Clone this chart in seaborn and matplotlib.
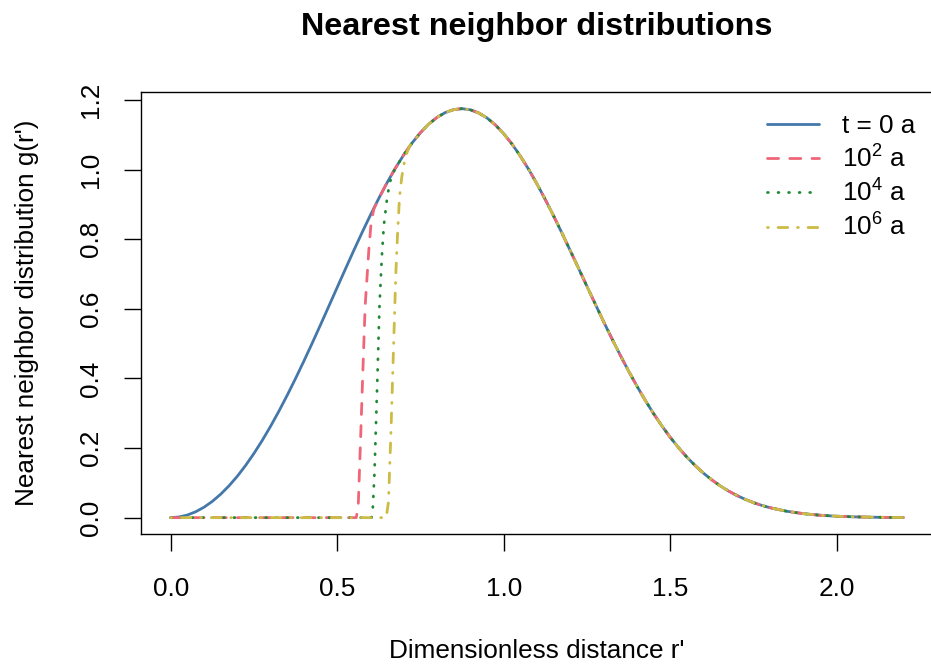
import numpy as np
import pandas as pd
import matplotlib
matplotlib.use("Agg")
import matplotlib.pyplot as plt
import seaborn as sns

# ---- data ----
r_grid = [0.000, 0.025, 0.050, 0.075, 0.100, 0.125, 0.150, 0.175, 0.200, 0.225,
          0.250, 0.275, 0.300, 0.325, 0.350, 0.375, 0.400, 0.425, 0.450, 0.475,
          0.500, 0.525, 0.550, 0.575, 0.600, 0.625, 0.650, 0.675, 0.700, 0.725,
          0.750, 0.775, 0.800, 0.825, 0.850, 0.875, 0.900, 0.925, 0.950, 0.975,
          1.000, 1.025, 1.050, 1.075, 1.100, 1.125, 1.150, 1.175, 1.200, 1.225,
          1.250, 1.275, 1.300, 1.325, 1.350, 1.375, 1.400, 1.425, 1.450, 1.475,
          1.500, 1.525, 1.550, 1.575, 1.600, 1.625, 1.650, 1.675, 1.700, 1.725,
          1.750, 1.775, 1.800, 1.850, 1.900, 1.950, 2.000, 2.050, 2.100, 2.150,
          2.200]
g_t0 = [0.0000, 0.0019, 0.0075, 0.0169, 0.0300, 0.0468, 0.0673, 0.0914, 0.1190, 0.1502,
        0.1846, 0.2222, 0.2628, 0.3062, 0.3521, 0.4002, 0.4502, 0.5018, 0.5546, 0.6081,
        0.6619, 0.7155, 0.7684, 0.8202, 0.8702, 0.9180, 0.9632, 1.0050, 1.0431, 1.0772,
        1.1067, 1.1313, 1.1507, 1.1646, 1.1729, 1.1756, 1.1723, 1.1632, 1.1488, 1.1288,
        1.1036, 1.0737, 1.0392, 1.0010, 0.9591, 0.9142, 0.8670, 0.8179, 0.7672, 0.7163,
        0.6649, 0.6139, 0.5634, 0.5144, 0.4670, 0.4214, 0.3782, 0.3373, 0.2991, 0.2637,
        0.2310, 0.2011, 0.1740, 0.1496, 0.1278, 0.1085, 0.0915, 0.0766, 0.0638, 0.0527,
        0.0432, 0.0352, 0.0285, 0.0183, 0.0114, 0.0069, 0.0040, 0.0023, 0.0013, 0.0007,
        0.0003]

# steep onsets of the later distributions (zero before, t = 0 curve after)
rise_1e2_r = [0.000, 0.557, 0.563, 0.570, 0.577, 0.584, 0.595, 0.602, 0.610]
rise_1e2_g = [0.000, 0.000, 0.030, 0.220, 0.420, 0.610, 0.770, 0.850, 0.887]
rise_1e4_r = [0.000, 0.603, 0.607, 0.612, 0.620, 0.627, 0.634, 0.640, 0.650, 0.658, 0.672]
rise_1e4_g = [0.000, 0.000, 0.030, 0.130, 0.380, 0.610, 0.750, 0.840, 0.920, 0.964, 1.000]
rise_1e6_r = [0.000, 0.647, 0.654, 0.662, 0.669, 0.676, 0.681, 0.687, 0.694, 0.704, 0.717]
rise_1e6_g = [0.000, 0.000, 0.045, 0.265, 0.485, 0.700, 0.810, 0.920, 0.980, 1.035, 1.068]

labels = ["t = 0 a", r"$10^2$ a", r"$10^4$ a", r"$10^6$ a"]
colors = ["#4477AA", "#EE6677", "#228833", "#CCBB44"]
styles = ["-", (0, (4, 4)), (0, (0.3, 3.5)), (0, (0.3, 3.5, 3.5, 3.5))]

x_ticks = [0.0, 0.5, 1.0, 1.5, 2.0]
y_ticks = [0.0, 0.2, 0.4, 0.6, 0.8, 1.0, 1.2]


def join(rise_r, rise_g):
    last = rise_r[-1]
    rr = list(rise_r) + [r for r in r_grid if r > last + 1e-9]
    gg = list(rise_g) + [g for r, g in zip(r_grid, g_t0) if r > last + 1e-9]
    return rr, gg


series = [(r_grid, g_t0), join(rise_1e2_r, rise_1e2_g),
          join(rise_1e4_r, rise_1e4_g), join(rise_1e6_r, rise_1e6_g)]

# ---- figure ----
sns.set_style("white")
plt.rcParams["font.family"] = ["Liberation Sans", "DejaVu Sans"]
plt.rcParams["mathtext.fontset"] = "custom"
plt.rcParams["mathtext.rm"] = "Liberation Sans"
plt.rcParams["mathtext.it"] = "Liberation Sans:italic"
plt.rcParams["mathtext.bf"] = "Liberation Sans:bold"
plt.rcParams["text.color"] = "black"
plt.rcParams["axes.labelcolor"] = "black"
plt.rcParams["xtick.color"] = "black"
plt.rcParams["ytick.color"] = "black"

fig = plt.figure(figsize=(9.31, 6.64), dpi=100)
ax = fig.add_axes([0.1519, 0.1958, 1.0017 - 0.1519, 0.861 - 0.1958])

for (rr, gg), lab, col, ls in zip(series, labels, colors, styles):
    df = pd.DataFrame({"r": rr, "g": gg})
    sns.lineplot(data=df, x="r", y="g", ax=ax, color=col, label=lab,
                 sort=False, estimator=None, linewidth=2.0,
                 linestyle=ls, dash_capstyle="round", solid_capstyle="round")

ax.set_xlim(-0.088, 2.288)
ax.set_ylim(-0.047, 1.2226)
ax.set_xticks(x_ticks)
ax.set_xticklabels([f"{v:.1f}" for v in x_ticks])
ax.set_yticks(y_ticks)
ax.set_yticklabels([f"{v:.1f}" for v in y_ticks], rotation=90, va="center")

for s in ax.spines.values():
    s.set_visible(True)
    s.set_color("black")
    s.set_linewidth(1.0)

ax.tick_params(axis="both", direction="out", length=12, width=1.0,
               color="black", labelsize=18.8, labelcolor="black",
               bottom=True, left=True, top=False, right=False)
ax.tick_params(axis="x", pad=19)
ax.tick_params(axis="y", pad=16)

ax.set_xlabel("Dimensionless distance r'", fontsize=18.8, color="black")
ax.xaxis.set_label_coords(0.5, -0.265)
ax.xaxis.label.set_va("center")
ax.set_ylabel("Nearest neighbor distribution g(r')", fontsize=18.8, color="black")
ax.yaxis.set_label_coords(-0.1446, 0.5)
ax.yaxis.label.set_va("center")

ax.set_title("Nearest neighbor distributions", fontsize=23.3, fontweight="bold",
             y=1.129, va="center", color="black")

leg = ax.legend(loc="upper left",
                bbox_to_anchor=((767 - 141.4) / 791.2, (534 - 114) / 441.7),
                frameon=False, fontsize=18.8, handlelength=2.0, handletextpad=0.88,
                labelspacing=0.27, borderpad=0, borderaxespad=0)
for t in leg.get_texts():
    t.set_color("black")

fig.savefig("out.png", dpi=100)
